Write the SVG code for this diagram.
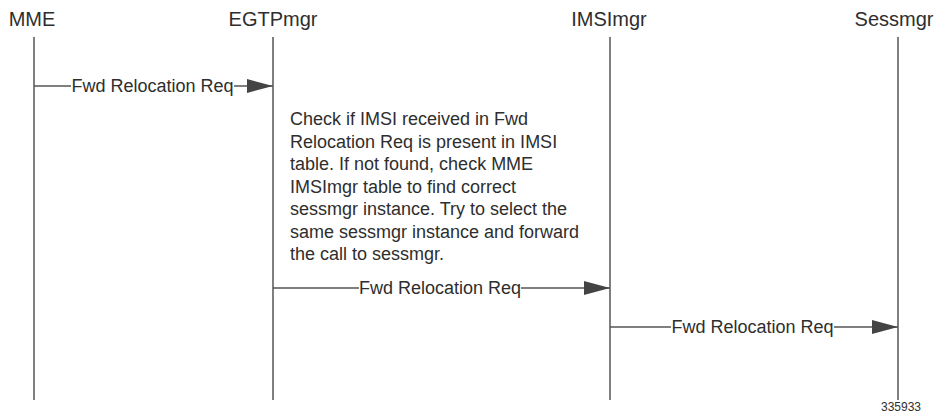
<svg xmlns="http://www.w3.org/2000/svg" width="940" height="414" viewBox="0 0 940 414">
<style>
.t{font-family:"Liberation Sans",Arial,sans-serif;fill:#2e2e2e}
.h{font-size:20px;text-anchor:middle}
.m{font-size:18px;text-anchor:middle}
.n{font-size:18px}
.life{stroke:#555;stroke-width:1.5;fill:none}
.msg{stroke:#555;stroke-width:1.3;fill:none;marker-end:url(#ah)}
.bg{fill:#fff}
</style>
<defs>
<marker id="ah" markerUnits="userSpaceOnUse" markerWidth="26" markerHeight="14" refX="26" refY="7" orient="auto">
<path d="M0,0 L26,7 L0,14 Z" fill="#444"/>
</marker>
</defs>
<rect width="940" height="414" fill="#fff"/>
<g id="MME"><text class="t h" x="32" y="26">MME</text><line class="life" x1="34" y1="37" x2="34" y2="400"/></g>
<g id="EGTPmgr"><text class="t h" x="273" y="26">EGTPmgr</text><line class="life" x1="273" y1="37" x2="273" y2="400"/></g>
<g id="IMSImgr"><text class="t h" x="609" y="26">IMSImgr</text><line class="life" x1="610" y1="37" x2="610" y2="400"/></g>
<g id="Sessmgr"><text class="t h" x="894" y="26">Sessmgr</text><line class="life" x1="898" y1="37" x2="898" y2="400"/></g>
<g id="note">
<text class="t n" x="290" y="125">Check if IMSI received in Fwd</text>
<text class="t n" x="290" y="147.5">Relocation Req is present in IMSI</text>
<text class="t n" x="290" y="170">table. If not found, check MME</text>
<text class="t n" x="290" y="192.5">IMSImgr table to find correct</text>
<text class="t n" x="290" y="215">sessmgr instance. Try to select the</text>
<text class="t n" x="290" y="237.5">same sessmgr instance and forward</text>
<text class="t n" x="290" y="260">the call to sessmgr.</text>
</g>
<g id="connectors">
<line class="msg" x1="34" y1="86" x2="273" y2="86"/>
<rect class="bg" x="71" y="76" width="163" height="20"/>
<text class="t m" x="152.5" y="92">Fwd Relocation Req</text>
<line class="msg" x1="273" y1="288" x2="610" y2="288"/>
<rect class="bg" x="359" y="278" width="162" height="20"/>
<text class="t m" x="440" y="294">Fwd Relocation Req</text>
<line class="msg" x1="610" y1="327" x2="898" y2="327"/>
<rect class="bg" x="671" y="317" width="163" height="20"/>
<text class="t m" x="752.5" y="333">Fwd Relocation Req</text>
</g>
<text class="t" x="921" y="411" font-size="12" text-anchor="end">335933</text>
</svg>
